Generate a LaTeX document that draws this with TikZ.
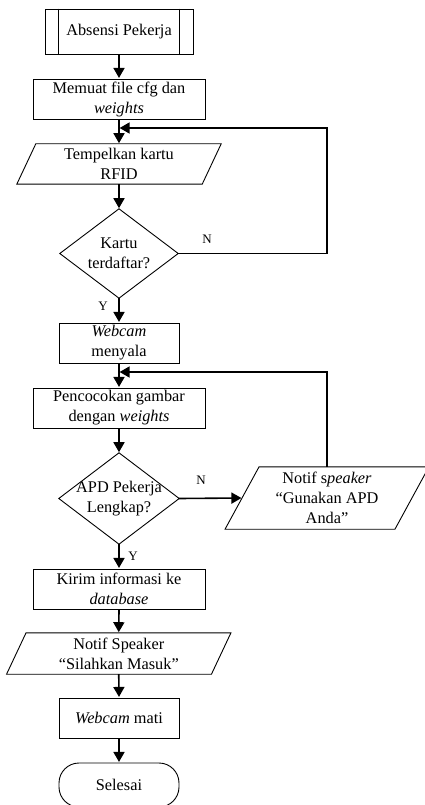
\documentclass[tikz,border=0pt]{standalone}
\usepackage{fontspec}
\setmainfont{Liberation Serif}
\usetikzlibrary{arrows.meta,calc}
\begin{document}
\begin{tikzpicture}[x=1pt,y=-1pt,
  base/.style={align=center, inner sep=0pt, font=\fontsize{16.3}{20}\selectfont},
  proc/.style={base, draw, line width=0.9pt},
  ghost/.style={base},
  shp/.style={line width=0.9pt},
  conn/.style={line width=1.6pt, shorten >=0.6pt, -{Triangle[length=10pt,width=11pt]}},
  lbl/.style={font=\fontsize{13}{15}\selectfont, inner sep=0pt}]
\useasboundingbox (0,0) rectangle (425,805);

% nodes
\node[proc, minimum width=148pt, minimum height=45pt] (start) at (119,31.5) {Absensi Pekerja};
\draw[shp] ([xshift=14pt]start.north west) -- ([xshift=14pt]start.south west);
\draw[shp] ([xshift=-14pt]start.north east) -- ([xshift=-14pt]start.south east);

\node[proc, minimum width=172pt, minimum height=40pt] (load) at (119,99) {Memuat file cfg dan\\\textit{weights}};

\node[ghost, minimum width=185pt, minimum height=40pt] (rfid) at (119,164) {Tempelkan kartu\\RFID};
\draw[shp] ([xshift=9.5pt]rfid.north west) -- ([xshift=9.5pt]rfid.north east) -- ([xshift=-9.5pt]rfid.south east) -- ([xshift=-9.5pt]rfid.south west) -- cycle;

\node[ghost, minimum width=118pt, minimum height=89pt] (kartu) at (119,253.5) {Kartu\\terdaftar?};
\draw[shp] (kartu.north) -- (kartu.east) -- (kartu.south) -- (kartu.west) -- cycle;

\node[proc, minimum width=120pt, minimum height=40pt] (won) at (119,343) {\textit{Webcam}\\menyala};

\node[proc, minimum width=172pt, minimum height=40pt] (match) at (119,408) {Pencocokan gambar\\dengan \textit{weights}};

\node[ghost, minimum width=120pt, minimum height=91pt] (apd) at (119,498.5) {APD Pekerja\\Lengkap?};
\draw[shp] (apd.north) -- (apd.east) -- (apd.south) -- (apd.west) -- cycle;

\node[ghost, minimum width=169.5pt, minimum height=62pt] (notif1) at (327,498) {Notif s\textit{peaker}\\“Gunakan APD\\Anda”};
\draw[shp] ([xshift=17pt]notif1.north west) -- ([xshift=17pt]notif1.north east) -- ([xshift=-17pt]notif1.south east) -- ([xshift=-17pt]notif1.south west) -- cycle;

\node[proc, minimum width=172pt, minimum height=40pt] (send) at (119,589) {Kirim informasi ke\\\textit{database}};

\node[ghost, minimum width=204.5pt, minimum height=41pt] (notif2) at (118.75,653.5) {Notif Speaker\\“Silahkan Masuk”};
\draw[shp] ([xshift=9.75pt]notif2.north west) -- ([xshift=9.75pt]notif2.north east) -- ([xshift=-9.75pt]notif2.south east) -- ([xshift=-9.75pt]notif2.south west) -- cycle;

\node[proc, minimum width=120pt, minimum height=40pt] (woff) at (119,718) {\textit{Webcam} mati};

\node[proc, rounded corners=20pt, minimum width=120pt, minimum height=44pt] (end) at (119,785) {Selesai};

% helper coordinates
\coordinate (c1) at (327,128);
\coordinate (j1) at (119,128);
\coordinate (c2) at (327,372);
\coordinate (j2) at (119,372);

% connectors
\draw[conn] (start.south) -- (load.north);
\draw[conn] (load.south) -- (rfid.north);
\draw[conn] (rfid.south) -- (kartu.north);
\draw[conn] (kartu.south) -- (won.north);
\draw[conn] (kartu.east) -| (c1) -- (j1);
\draw[conn] (won.south) -- (match.north);
\draw[conn] (notif1.north) -- (c2) -- (j2);
\draw[conn] (match.south) -- (apd.north);
\draw[conn] (apd.east) -- (notif1.west);
\draw[conn] (apd.south) -- (send.north);
\draw[conn] (send.south) -- (notif2.north);
\draw[conn] (notif2.south) -- (woff.north);
\draw[conn] (woff.south) -- (end.north);

% labels
\node[lbl] (n1) at (207,239) {N};
\node[lbl] (y1) at (103,306) {Y};
\node[lbl] (n2) at (201,480) {N};
\node[lbl] (y2) at (133,556) {Y};
\end{tikzpicture}
\end{document}
